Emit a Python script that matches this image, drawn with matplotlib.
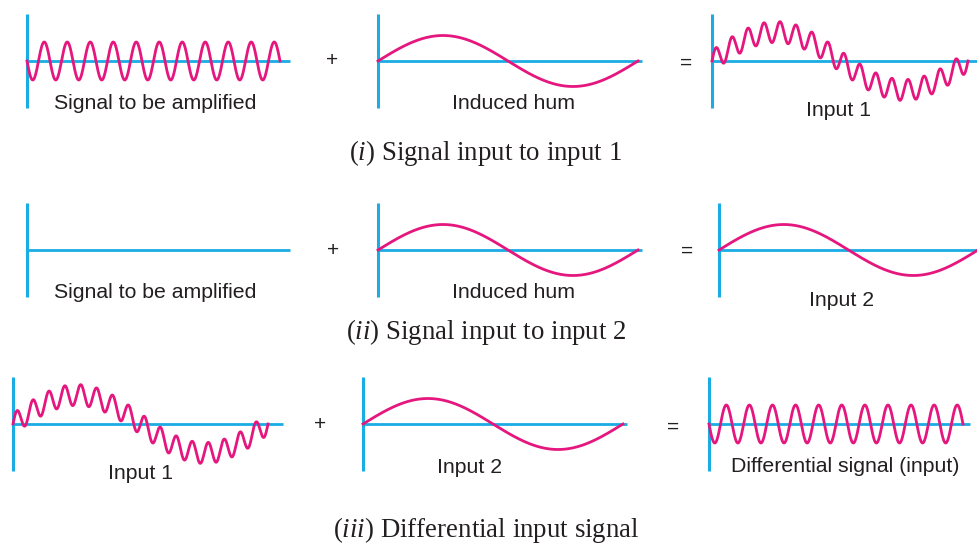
import numpy as np
import matplotlib
matplotlib.use("Agg")
import matplotlib.pyplot as plt

plt.rcParams['mathtext.fontset'] = 'custom'
plt.rcParams['mathtext.rm'] = 'Liberation Serif'
plt.rcParams['mathtext.it'] = 'Liberation Serif:italic'

MAGENTA = '#e5177e'
BLUE = '#19ade4'
INK = '#231f20'

# waveform parameters (cycles over the trace, amplitude in px)
signal_cycles = 11
signal_amp = 19
hum_cycles = 1
hum_amp = 25.5
input1_hum_amp = 29
input1_ripple_cycles = 16
input1_ripple_amp = 10.5

labels = [
    ["Signal to be amplified", "Induced hum", "Input 1"],
    ["Signal to be amplified", "Induced hum", "Input 2"],
    ["Input 1", "Input 2", "Differential signal (input)"],
]
captions = [
    r"($\mathit{i}$) Signal input to input 1",
    r"($\mathit{ii}$) Signal input to input 2",
    r"($\mathit{iii}$) Differential input signal",
]


def signal(t):
    return -signal_amp * np.sin(2 * np.pi * signal_cycles * t)


def hum(t):
    return hum_amp * np.sin(2 * np.pi * hum_cycles * t)


def input1(t):
    return (input1_hum_amp * np.sin(2 * np.pi * t)
            + input1_ripple_amp * np.sin(2 * np.pi * input1_ripple_cycles * t))


def flat(t):
    return np.full_like(t, np.nan)


# layout: (axis x, baseline y, baseline end x, trace width, wave, label xy)
panels = [
    [(27, 61, 290, 253, signal, (155, 109)),
     (378, 61, 642, 260, hum, (514, 109)),
     (712, 61, 978, 256, input1, (839, 116))],
    [(27, 250, 290, 253, flat, (155, 298)),
     (378, 250, 642, 260, hum, (514, 298)),
     (719, 250, 978, 259, hum, (842, 306))],
    [(13, 424, 283, 255, input1, (141, 479)),
     (363, 424, 627, 260, hum, (470, 473)),
     (709, 424, 970, 254, signal, (845, 472))],
]
ops = [[(332, 61), (686, 63)], [(333, 250), (687, 251)], [(320, 424), (673, 427)]]
caption_xy = [(485, 160), (486, 339), (486, 537)]

fig = plt.figure(figsize=(9.78, 5.47), dpi=100)
ax = fig.add_axes([0, 0, 1, 1])
ax.set_xlim(0, 978)
ax.set_ylim(547, 0)
ax.axis('off')

t = np.linspace(0, 1, 1200)
for r, row in enumerate(panels):
    for c, (x0, y0, xend, w, wave, (lx, ly)) in enumerate(row):
        ax.plot([x0, xend], [y0, y0], color=BLUE, lw=2.0, solid_capstyle='butt')
        ax.plot([x0, x0], [y0 - 47, y0 + 47], color=BLUE, lw=2.2,
                solid_capstyle='butt')
        ax.plot(x0 + w * t, y0 - wave(t), color=MAGENTA, lw=2.0)
        ax.text(lx, ly, labels[r][c], ha='center', va='baseline', fontsize=15.3,
                family='Liberation Sans', color=INK)
    for (ox, oy), sym in zip(ops[r], ['+', '=']):
        ax.text(ox, oy, sym, ha='center', va='center', fontsize=15,
                family='Liberation Sans', color=INK)
    ax.text(*caption_xy[r], captions[r], ha='center', va='baseline',
            fontsize=19.4, family='Liberation Serif', color=INK)

fig.savefig('out.png', dpi=100)
